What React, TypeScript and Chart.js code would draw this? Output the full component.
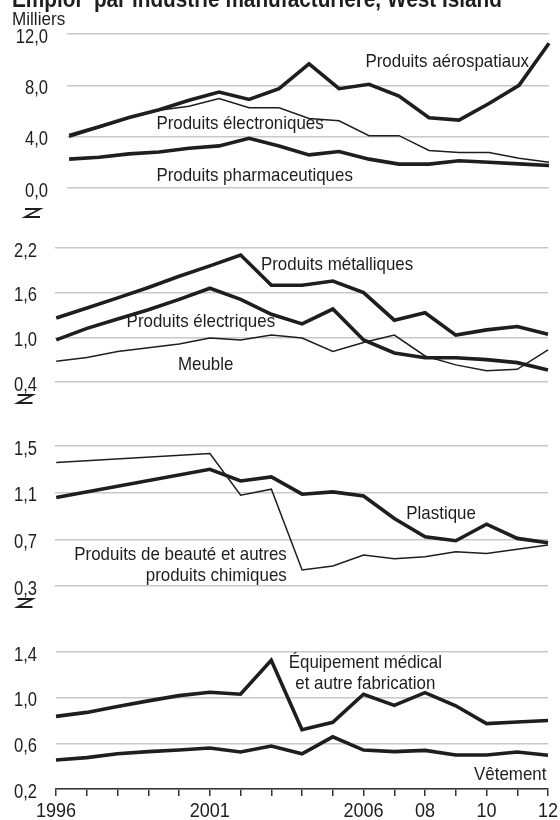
import React, { useEffect, useRef } from 'react';
import { Chart, registerables } from 'chart.js';

Chart.register(...registerables);

// ---------- DATA ----------
const years = [1996, 1997, 1998, 1999, 2000, 2001, 2002, 2003, 2004, 2005, 2006, 2007, 2008, 2009, 2010, 2011, 2012];
const xTickLabels = ['1996', '', '', '', '', '2001', '', '', '', '', '2006', '', '08', '', '10', '', '12'];

// Panel 1 (milliers)
const aerospatiaux = [4.1, 4.77, 5.5, 6.1, 6.84, 7.48, 6.9, 7.74, 9.68, 7.74, 8.08, 7.17, 5.47, 5.29, 6.58, 8.0, 11.28];
const electroniques = [3.95, 4.7, 5.45, 6.05, 6.37, 6.97, 6.25, 6.25, 5.42, 5.24, 4.08, 4.08, 2.92, 2.76, 2.76, 2.32, 2.01];
const pharmaceutiques = [2.25, 2.4, 2.66, 2.81, 3.1, 3.28, 3.87, 3.28, 2.58, 2.84, 2.25, 1.86, 1.86, 2.12, 2.01, 1.88, 1.75];

// Panel 2
const metalliques = [1.26, 1.395, 1.53, 1.67, 1.82, 1.96, 2.105, 1.7, 1.7, 1.757, 1.6, 1.23, 1.33, 1.03, 1.1, 1.146, 1.04];
const electriques = [0.965, 1.12, 1.245, 1.37, 1.51, 1.66, 1.51, 1.31, 1.18, 1.38, 0.965, 0.79, 0.725, 0.725, 0.7, 0.66, 0.56];
const meuble = [0.68, 0.73, 0.81, 0.86, 0.91, 0.99, 0.965, 1.03, 0.99, 0.81, 0.93, 1.03, 0.75, 0.63, 0.55, 0.57, 0.83];

// Panel 3
const beaute = [1.358, null, null, null, null, 1.435, 1.078, 1.13, 0.437, 0.471, 0.565, 0.534, 0.551, 0.594, 0.579, 0.614, 0.651];
const plastique = [1.058, null, null, null, null, 1.3, 1.2, 1.235, 1.087, 1.107, 1.072, 0.879, 0.722, 0.688, 0.83, 0.708, 0.67];

// Panel 4
const medical = [0.836, 0.871, 0.923, 0.972, 1.018, 1.047, 1.03, 1.328, 0.72, 0.784, 1.03, 0.932, 1.044, 0.929, 0.773, 0.787, 0.8];
const vetement = [0.454, 0.475, 0.509, 0.527, 0.541, 0.559, 0.524, 0.576, 0.509, 0.657, 0.541, 0.527, 0.538, 0.498, 0.498, 0.524, 0.495];

const ticks1 = [0, 4, 8, 12];
const ticks2 = [0.4, 1.0, 1.6, 2.2];
const ticks3 = [0.3, 0.7, 1.1, 1.5];
const ticks4 = [0.2, 0.6, 1.0, 1.4];

const title = 'Emploi¹ par industrie manufacturière, West Island';
const unitLabel = 'Milliers';

// ---------- STYLE ----------
const FONT = '"Liberation Sans", Arial, sans-serif';
const INK = '#1e1e1e';
const GRID = '#c8c8c8';
const THICK = 3.6;
const THIN = 1.5;

type Lbl = { text: string; yr: number; v: number; align: CanvasTextAlign };
type Series = { data: (number | null)[]; width: number };
type Panel = {
  top: number; height: number; padTop: number; padBottom: number;
  left: number; right: number; xMin: number; yMin: number; yMax: number; ticks: number[];
  tickRight: number; series: Series[]; labels: Lbl[];
  zMark?: { cx: number; dy: number }; xAxis?: boolean; header?: boolean;
};

const panels: Panel[] = [
  {
    top: 0, height: 230, padTop: 34, padBottom: 42, left: 67, right: 549, xMin: 1995.93,
    yMin: 0, yMax: 12, ticks: ticks1, tickRight: 48,
    series: [
      { data: aerospatiaux, width: THICK },
      { data: electroniques, width: THIN },
      { data: pharmaceutiques, width: THICK },
    ],
    labels: [
      { text: 'Produits aérospatiaux', yr: 2005.88, v: 9.43, align: 'left' },
      { text: 'Produits électroniques', yr: 1998.91, v: 4.6, align: 'left' },
      { text: 'Produits pharmaceutiques', yr: 1998.91, v: 0.545, align: 'left' },
    ],
    zMark: { cx: 32.5, dy: 25 }, header: true,
  },
  {
    top: 200, height: 215, padTop: 48, padBottom: 33, left: 55, right: 548, xMin: 1995.96,
    yMin: 0.4, yMax: 2.2, ticks: ticks2, tickRight: 37,
    series: [
      { data: metalliques, width: THICK },
      { data: electriques, width: THICK },
      { data: meuble, width: THIN },
    ],
    labels: [
      { text: 'Produits métalliques', yr: 2002.66, v: 1.911, align: 'left' },
      { text: 'Produits électriques', yr: 1998.29, v: 1.142, align: 'left' },
      { text: 'Meuble', yr: 1999.96, v: 0.562, align: 'left' },
    ],
    zMark: { cx: 25, dy: 17 },
  },
  {
    top: 400, height: 215, padTop: 46, padBottom: 29, left: 55, right: 548, xMin: 1995.96,
    yMin: 0.3, yMax: 1.5, ticks: ticks3, tickRight: 37,
    series: [
      { data: beaute, width: THIN },
      { data: plastique, width: THICK },
    ],
    labels: [
      { text: 'Plastique', yr: 2007.39, v: 0.874, align: 'left' },
      { text: 'Produits de beauté et autres', yr: 2003.5, v: 0.523, align: 'right' },
      { text: 'produits chimiques', yr: 2003.5, v: 0.343, align: 'right' },
    ],
    zMark: { cx: 25, dy: 17 },
  },
  {
    top: 600, height: 220, padTop: 52, padBottom: 0, left: 56, right: 548, xMin: 1996,
    yMin: 0.2, yMax: 1.4, ticks: ticks4, tickRight: 37,
    series: [
      { data: medical, width: THICK },
      { data: vetement, width: THICK },
    ],
    labels: [
      { text: 'Équipement médical', yr: 2006.06, v: 1.26, align: 'center' },
      { text: 'et autre fabrication', yr: 2006.06, v: 1.076, align: 'center' },
      { text: 'Vêtement', yr: 2011.95, v: 0.279, align: 'right' },
    ],
    xAxis: true,
  },
];

const fmt = (v: number) => v.toFixed(1).replace('.', ',');

function condensedText(ctx: CanvasRenderingContext2D, text: string, x: number, y: number, align: CanvasTextAlign, sx: number) {
  ctx.save();
  ctx.translate(x, y);
  ctx.scale(sx, 1);
  ctx.textAlign = align;
  ctx.textBaseline = 'alphabetic';
  ctx.fillText(text, 0, 0);
  ctx.restore();
}

function PanelChart({ p }: { p: Panel }) {
  const ref = useRef<HTMLCanvasElement | null>(null);
  useEffect(() => {
    if (!ref.current) return;
    const decor = {
      id: 'decor',
      afterDraw(chart: any) {
        const ctx = chart.ctx as CanvasRenderingContext2D;
        const xs = chart.scales.x;
        const ys = chart.scales.y;
        ctx.save();
        ctx.fillStyle = INK;
        // series labels
        ctx.font = `19px ${FONT}`;
        for (const l of p.labels) {
          condensedText(ctx, l.text, xs.getPixelForValue(l.yr), ys.getPixelForValue(l.v), l.align, 0.89);
        }
        // y tick labels
        ctx.font = `20px ${FONT}`;
        for (const t of p.ticks) {
          condensedText(ctx, fmt(t), p.tickRight, ys.getPixelForValue(t) + 8.5, 'right', 0.83);
        }
        // x tick labels
        if (p.xAxis) {
          ctx.font = `21px ${FONT}`;
          years.forEach((y, i) => {
            const s = xTickLabels[i];
            if (s) condensedText(ctx, s, xs.getPixelForValue(y), chart.height - 3, 'center', 0.86);
          });
        }
        if (p.header) {
          ctx.font = `bold 24px ${FONT}`;
          condensedText(ctx, title, 12, 7, 'left', 0.865);
          ctx.font = `19px ${FONT}`;
          condensedText(ctx, unitLabel, 12, 25, 'left', 0.9);
        }
        if (p.zMark) {
          const cx = p.zMark.cx;
          const cy = chart.chartArea.bottom + p.zMark.dy;
          ctx.strokeStyle = INK;
          ctx.lineWidth = 1.8;
          ctx.beginPath();
          ctx.moveTo(cx - 7.5, cy - 4);
          ctx.lineTo(cx + 7.5, cy - 4);
          ctx.lineTo(cx - 7.5, cy + 4);
          ctx.lineTo(cx + 7.5, cy + 4);
          ctx.stroke();
        }
        ctx.restore();
      },
    };
    const chart = new Chart(ref.current, {
      type: 'line',
      data: {
        datasets: p.series.map((s) => ({
          data: years.map((y, i) => ({ x: y, y: s.data[i] as any })),
          borderColor: INK,
          borderWidth: s.width,
          pointRadius: 0,
          tension: 0,
          spanGaps: true,
          fill: false,
          clip: false,
        })),
      },
      options: {
        animation: false,
        responsive: false,
        maintainAspectRatio: false,
        events: [],
        layout: { padding: { top: p.padTop, bottom: p.padBottom, left: 0, right: 560 - p.right } },
        plugins: { legend: { display: false }, tooltip: { enabled: false }, title: { display: false } },
        scales: {
          x: {
            type: 'linear',
            min: p.xMin,
            max: years[years.length - 1],
            display: !!p.xAxis,
            afterBuildTicks: (s: any) => { s.ticks = years.map((v) => ({ value: v })); },
            afterFit: (s: any) => { s.height = p.xAxis ? 31 : 0; },
            ticks: { display: false, autoSkip: false, maxRotation: 0 },
            grid: { drawOnChartArea: false, drawTicks: true, tickLength: 7, color: '#333', lineWidth: 1.5 },
            border: { display: true, color: '#333', width: 1.5 },
          },
          y: {
            min: p.yMin,
            max: p.yMax,
            afterBuildTicks: (s: any) => { s.ticks = p.ticks.map((v) => ({ value: v })); },
            afterFit: (s: any) => { s.width = p.left; },
            ticks: { display: false },
            grid: { color: GRID, lineWidth: 1.5, drawTicks: false },
            border: { display: false },
          },
        },
      } as any,
      plugins: [decor],
    });
    return () => chart.destroy();
  }, [p]);
  return (
    <canvas
      ref={ref}
      width={560}
      height={p.height}
      style={{ position: 'absolute', left: 0, top: p.top, width: 560, height: p.height }}
    />
  );
}

export default function App() {
  return (
    <div style={{ position: 'absolute', left: 0, top: 0, width: 560, height: 820, background: '#ffffff', overflow: 'hidden' }}>
      {panels.map((p, i) => (
        <PanelChart key={i} p={p} />
      ))}
    </div>
  );
}
